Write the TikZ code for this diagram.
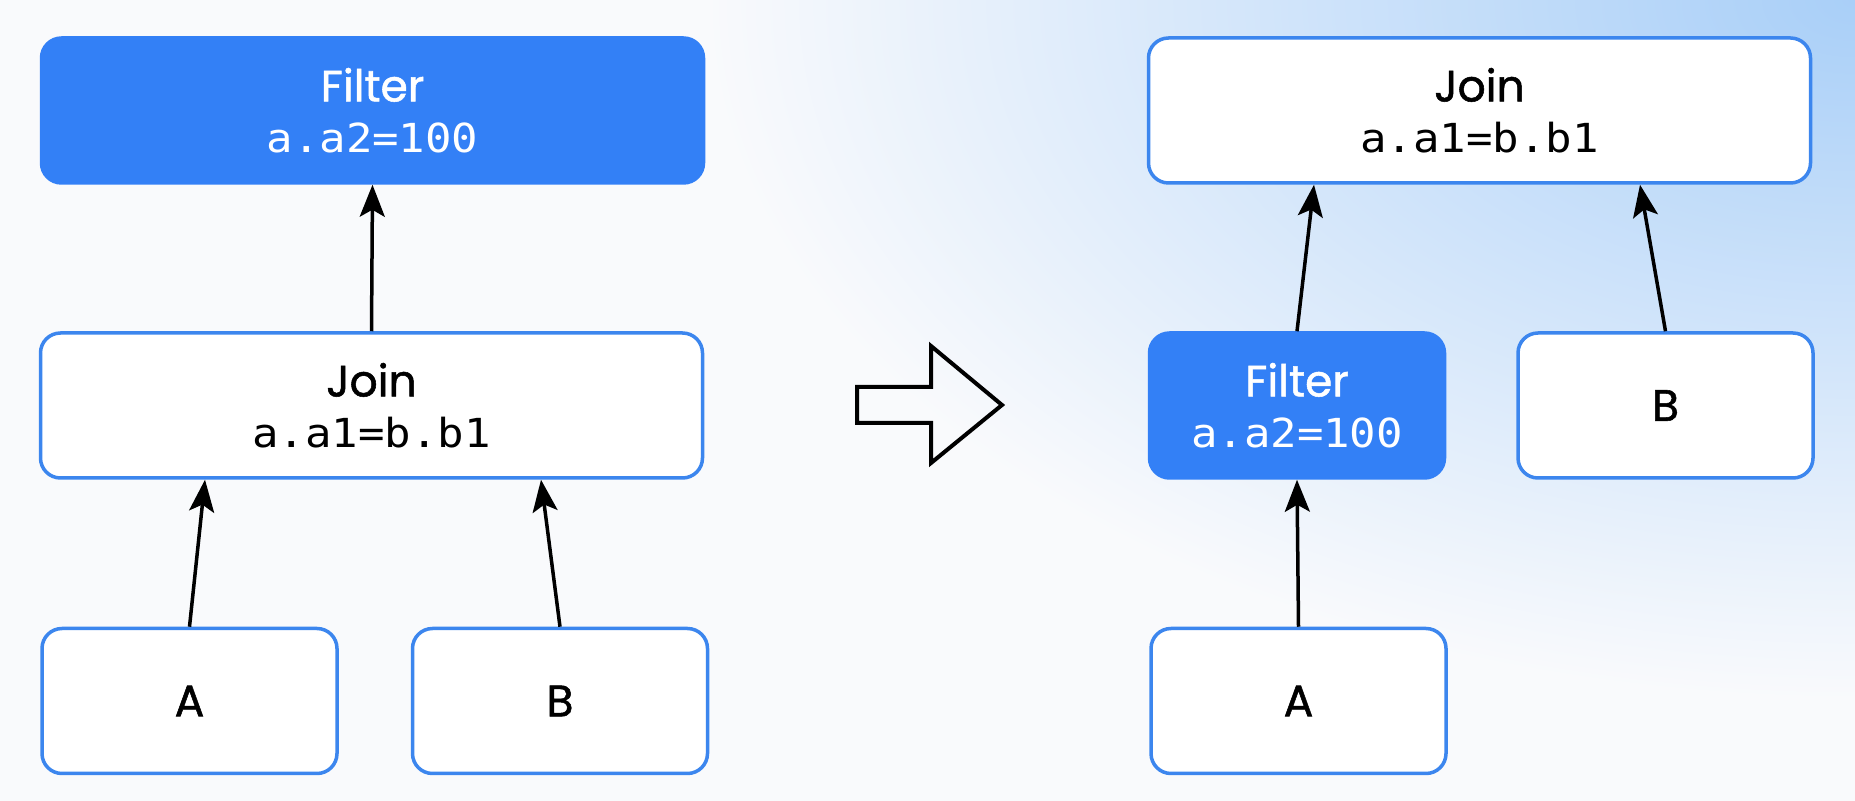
\documentclass[tikz,border=0pt]{standalone}
\usepackage{fontspec}
\setsansfont{Poppins}[UprightFeatures={FakeBold=1.2}]
\setmonofont{DejaVu Sans Mono}[FakeStretch=1.1]
\usetikzlibrary{arrows.meta}
\usetikzlibrary{shapes}

\definecolor{planblue}{HTML}{3380F6}
\definecolor{edgeblue}{HTML}{3C86EE}
\definecolor{pagebg}{HTML}{F9FAFC}
\definecolor{glowblue}{HTML}{A9CFF8}
\newcommand{\predtext}[1]{{\fontsize{40bp}{51bp}\selectfont\ttfamily #1}}

\begin{document}
\begin{tikzpicture}[>={Stealth[length=32bp,width=25bp,inset=7bp]},line join=miter,
  plannode/.style={draw=edgeblue,line width=3.5bp,fill=white,rounded corners=20bp,align=center,
    font=\fontsize{44bp}{51bp}\selectfont\sffamily,text=black,minimum height=145bp},
  selnode/.style={plannode,draw=planblue,fill=planblue,text=white},
  wide/.style={minimum width=662bp},
  narrow/.style={minimum width=295bp},
  edge/.style={black,->,line width=3.5bp}]
%%
\useasboundingbox (0,0) rectangle (1855bp,801bp);
\fill [pagebg] (0,0) rectangle (1855bp,801bp);
\begin{scope}
  \clip (0,0) rectangle (1855bp,801bp);
  \shade [inner color=glowblue,outer color=pagebg] (1855bp,801bp) ellipse (1150bp and 700bp);
\end{scope}
%% before
\node (node_filter_l) at (372.5bp,690.5bp) [selnode,wide] {Filter\\\predtext{a.a2=100}};
  \node (node_join_l) at (371.5bp,395.5bp) [plannode,wide] {Join\\\predtext{a.a1=b.b1}};
  \node (node_a_l) at (189.5bp,100bp) [plannode,narrow] {A};
  \node (node_b_l) at (560bp,100bp) [plannode,narrow] {B};
%% after
\node (node_join_r) at (1479.5bp,690.5bp) [plannode,wide] {Join\\\predtext{a.a1=b.b1}};
  \node (node_filter_r) at (1297bp,395.5bp) [selnode,narrow] {Filter\\\predtext{a.a2=100}};
  \node (node_b_r) at (1665.5bp,395.5bp) [plannode,narrow] {B};
  \node (node_a_r) at (1298.5bp,100bp) [plannode,narrow] {A};
%%
  \draw [edge] (node_join_l.north) -- (node_filter_l.south);
  \draw [edge] (node_a_l.north) -- ([xshift=-166.5bp]node_join_l.south);
  \draw [edge] (node_b_l.north) -- ([xshift=169.5bp]node_join_l.south);
  \draw [edge] (node_filter_r.north) -- ([xshift=-165.5bp]node_join_r.south);
  \draw [edge] (node_b_r.north) -- ([xshift=160.5bp]node_join_r.south);
  \draw [edge] (node_a_r.north) -- (node_filter_r.south);
%% rewrite arrow
\draw [black,line width=4bp] (857bp,414bp) -- (931bp,414bp) -- (931bp,455bp) -- (1002bp,396bp)
  -- (931bp,338bp) -- (931bp,378bp) -- (857bp,378bp) -- cycle;
%
\end{tikzpicture}
\end{document}
